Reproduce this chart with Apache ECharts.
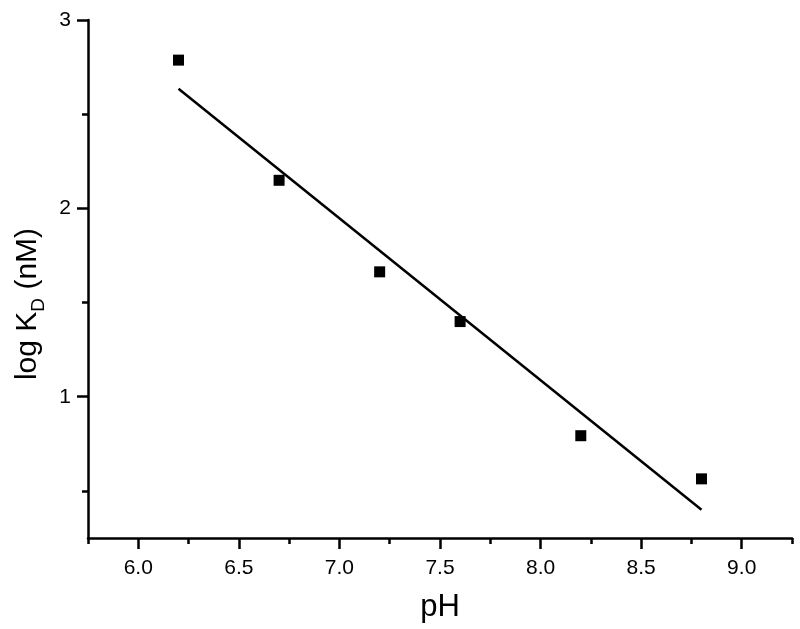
<!DOCTYPE html>
<html>
<head>
<meta charset="utf-8">
<script src="https://cdn.jsdelivr.net/npm/echarts@6/dist/echarts.min.js"></script>
<style>html,body{margin:0;padding:0;background:#fff;}#c{width:800px;height:629px;}</style>
</head>
<body>
<div id="c"></div>
<script>
// Measured data
var pH = [6.2, 6.7, 7.2, 7.6, 8.2, 8.8];
var logKD = [2.787, 2.149, 1.663, 1.399, 0.793, 0.564];
// Linear fit line endpoints
var fitX = [6.2, 8.8];
var fitY = [2.635, 0.40];
// Tick values
var xMajorTicks = [6.0, 6.5, 7.0, 7.5, 8.0, 8.5, 9.0];
var xMinorTicks = [5.75, 6.25, 6.75, 7.25, 7.75, 8.25, 8.75, 9.25];
var yMajorTicks = [1, 2, 3];
var yMinorTicks = [0.5, 1.5, 2.5];
var xRange = [5.75, 9.25];
var yRange = [0.25, 3];

var FONT = 'Liberation Sans, Arial, sans-serif';
var chart = echarts.init(document.getElementById('c'));
var axisLine = {show: true, lineStyle: {color: '#000', width: 2.5}};
chart.setOption({
  animation: false,
  grid: {left: 88, right: 8, top: 20, bottom: 91, containLabel: false},
  xAxis: [{
    type: 'value', min: xRange[0], max: xRange[1], position: 'bottom',
    name: 'pH', nameLocation: 'middle', nameGap: 54,
    nameTextStyle: {fontFamily: FONT, fontSize: 31, color: '#000'},
    axisLine: axisLine,
    axisTick: {show: true, inside: false, length: 11, lineStyle: {color: '#000', width: 2.5}, customValues: xMajorTicks},
    axisLabel: {show: true, customValues: xMajorTicks, margin: 20, fontFamily: FONT, fontSize: 21, color: '#000',
      formatter: function (v) { return Number(v).toFixed(1); }},
    splitLine: {show: false}
  }, {
    type: 'value', min: xRange[0], max: xRange[1], position: 'bottom',
    axisLine: {show: false},
    axisTick: {show: true, inside: false, length: 6, lineStyle: {color: '#000', width: 2.5}, customValues: xMinorTicks},
    axisLabel: {show: false},
    splitLine: {show: false}
  }],
  yAxis: [{
    type: 'value', min: yRange[0], max: yRange[1], position: 'left',
    name: '{a|log K}{s|D}{a| (nM)}', nameLocation: 'middle', nameGap: 44,
    nameTextStyle: {fontFamily: FONT, fontSize: 30, color: '#000', padding: [0, 50, 0, 0],
      rich: {
        a: {fontFamily: FONT, fontSize: 30, color: '#000', verticalAlign: 'bottom', lineHeight: 36},
        s: {fontFamily: FONT, fontSize: 19, color: '#000', verticalAlign: 'bottom', lineHeight: 27, padding: [0, 0, -6, 0]}
      }},
    axisLine: axisLine,
    axisTick: {show: true, inside: false, length: 11, lineStyle: {color: '#000', width: 2.5}, customValues: yMajorTicks},
    axisLabel: {show: true, customValues: yMajorTicks, margin: 17, fontFamily: FONT, fontSize: 21, color: '#000'},
    splitLine: {show: false}
  }, {
    type: 'value', min: yRange[0], max: yRange[1], position: 'left',
    axisLine: {show: false},
    axisTick: {show: true, inside: false, length: 6, lineStyle: {color: '#000', width: 2.5}, customValues: yMinorTicks},
    axisLabel: {show: false},
    splitLine: {show: false}
  }],
  series: [{
    type: 'line',
    data: fitX.map(function (x, i) { return [x, fitY[i]]; }),
    showSymbol: false, symbol: 'none',
    lineStyle: {color: '#000', width: 2.5},
    z: 2
  }, {
    type: 'scatter',
    data: pH.map(function (x, i) { return [x, logKD[i]]; }),
    symbol: 'rect', symbolSize: 11,
    itemStyle: {color: '#000', opacity: 1},
    z: 3
  }]
});
</script>
</body>
</html>
